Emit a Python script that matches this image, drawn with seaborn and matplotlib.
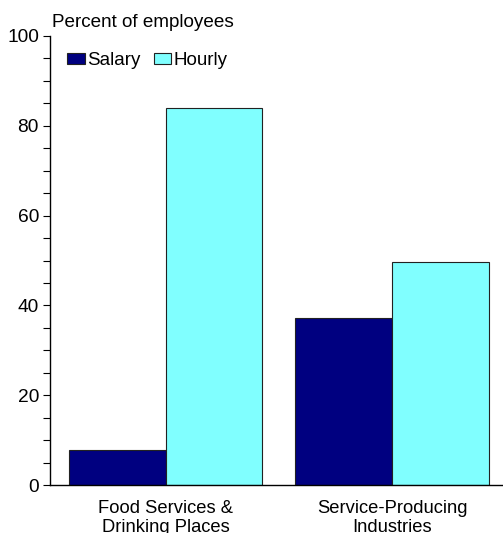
import matplotlib
matplotlib.use("Agg")
import matplotlib.pyplot as plt
from matplotlib.ticker import MultipleLocator
import seaborn as sns
import pandas as pd

categories = ["Food Services &\nDrinking Places", "Service-Producing\nIndustries"]
salary = [7.8, 37.3]
hourly = [84.0, 49.7]
series_names = ["Salary", "Hourly"]
colors = ["#000080", "#80FFFF"]

df = pd.DataFrame({
    "category": categories * 2,
    "pay": [series_names[0]] * 2 + [series_names[1]] * 2,
    "value": salary + hourly,
})

sns.set_theme(style="white")
plt.rcParams["font.family"] = ["Liberation Sans", "DejaVu Sans"]
plt.rcParams["text.color"] = "black"
plt.rcParams["xtick.color"] = "black"
plt.rcParams["ytick.color"] = "black"
plt.rcParams["xtick.labelcolor"] = "black"
plt.rcParams["ytick.labelcolor"] = "black"

fig = plt.figure(figsize=(5.03, 5.33), dpi=100)
ax = fig.add_axes([50 / 503, 48 / 533, 453 / 503, 449 / 533])

sns.barplot(data=df, x="category", y="value", hue="pay", palette=colors,
            width=0.855, edgecolor="#222222", linewidth=0.8, ax=ax,
            saturation=1, legend=True)

ax.set_xlim(-0.51, 1.49)
ax.set_ylim(0, 100)
ax.yaxis.set_major_locator(MultipleLocator(20))
ax.yaxis.set_minor_locator(MultipleLocator(5))
ax.tick_params(axis="y", which="both", direction="out", length=5, width=0.8,
               color="black", left=True, labelsize=13.8, pad=3,
               labelcolor="black")
ax.tick_params(axis="x", bottom=False, labelsize=13.2, pad=5,
               labelcolor="black")
for lbl in ax.get_xticklabels():
    lbl.set_linespacing(1.15)
ax.set_xlabel("")
ax.set_ylabel("")
for s in ["top", "right"]:
    ax.spines[s].set_visible(False)
for s in ["left", "bottom"]:
    ax.spines[s].set_color("black")
    ax.spines[s].set_linewidth(1.0)

leg = ax.legend(ncol=2, frameon=False, loc="center left",
                bbox_to_anchor=(0.0375, 0.945), handlelength=0.95,
                handleheight=0.55, handletextpad=0.12, columnspacing=0.7,
                fontsize=13.5, borderaxespad=0, borderpad=0)
for h in leg.legend_handles:
    h.set_edgecolor("#222222")
    h.set_linewidth(0.8)
for t in leg.get_texts():
    t.set_color("black")

fig.text(52 / 503, 1 - 22.5 / 533, "Percent of employees", fontsize=13.6,
         ha="left", va="center", color="black")

fig.savefig("out.png", dpi=100)
